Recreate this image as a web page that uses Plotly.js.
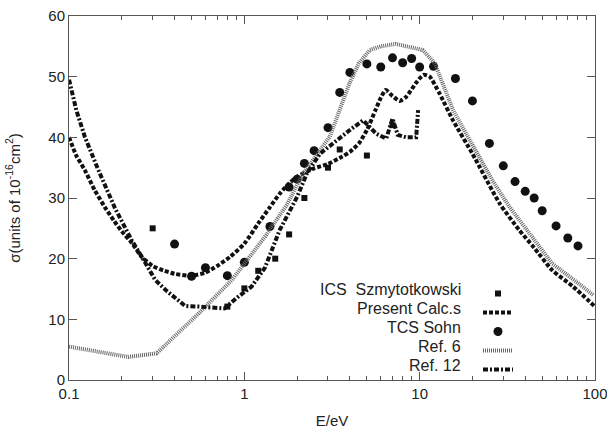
<!DOCTYPE html>
<html>
<head>
<meta charset="utf-8">
<script src="https://cdn.plot.ly/plotly-3.0.1.min.js"></script>
<style>html,body{margin:0;padding:0;background:#fff}#chart{width:607px;height:432px}</style>
</head>
<body>
<div id="chart"></div>
<script>
// ICS Szmytotkowski (squares)
const icsE = [0.3, 0.8, 1.0, 1.2, 1.5, 1.8, 2.2, 3.0, 3.5, 5.0, 7.0];
const icsS = [25.0, 12.1, 15.1, 18.0, 20.0, 24.0, 30.0, 35.0, 38.0, 37.0, 42.0];

// Present calculations
const pcE = [0.1, 0.11, 0.123, 0.14, 0.16, 0.18, 0.2, 0.228, 0.26, 0.3, 0.35, 0.4, 0.5, 0.6, 0.7, 0.83, 1.0, 1.2, 1.4, 1.6, 1.8, 2.0, 2.5, 3.0, 3.6, 4.0, 4.5, 5.0, 5.6, 6.0, 6.4, 7.0, 7.7, 8.4, 9.5, 10.5, 11.4, 13, 15.5, 20, 28.6, 37, 45, 57, 75, 100];
const pcS = [40, 37, 34.6, 31.3, 28.5, 26.3, 24.5, 22.6, 20.3, 18.8, 18.0, 17.5, 17.2, 17.7, 18.8, 20.3, 22.5, 25.8, 28.5, 30.8, 32.4, 33.5, 34.9, 35.6, 36.8, 37.6, 39.0, 41.2, 44.5, 46.5, 47.8, 46.8, 46.0, 46.7, 48.9, 50.3, 50.0, 47.2, 42.8, 37.3, 29.1, 24.7, 21.8, 18.1, 15.4, 12.1];

// TCS Sohn (circles)
const tcsE = [0.4, 0.5, 0.6, 0.8, 1.0, 1.4, 1.8, 2.0, 2.2, 2.5, 3.0, 3.5, 4.0, 5.0, 6.0, 7.0, 8.0, 9.0, 10, 12, 16, 20, 25, 30, 35, 40, 45, 50, 60, 70, 80];
const tcsS = [22.4, 17.1, 18.5, 17.2, 19.4, 25.3, 31.8, 33.1, 35.7, 37.8, 41.6, 47.4, 50.7, 52.1, 51.6, 53.1, 52.3, 53.0, 51.6, 51.7, 49.7, 46.0, 39.0, 35.3, 32.7, 31.1, 30.0, 27.9, 25.4, 23.4, 22.1];

// Ref. 6
const r6E = [0.1, 0.218, 0.316, 0.55, 0.85, 1.31, 1.74, 2.16, 3.07, 3.98, 4.5, 5.2, 6.0, 7.3, 10.4, 12.2, 15.5, 20.2, 26, 32.6, 42, 57, 72, 98];
const r6S = [5.5, 3.8, 4.4, 11.0, 16.5, 23.6, 28.8, 34.0, 40.1, 48.9, 52.2, 54.4, 55.0, 55.4, 54.4, 52.2, 44.5, 38.4, 32.9, 28.5, 24.2, 19.2, 17.0, 14.0];

// Ref. 12
const r12E = [0.1, 0.11, 0.123, 0.147, 0.183, 0.228, 0.26, 0.31, 0.36, 0.42, 0.46, 0.55, 0.65, 0.77, 0.92, 1.1, 1.31, 1.59, 2.0, 2.27, 2.7, 3.35, 4.0, 4.76, 5.65, 6.45, 7.0, 7.5, 8.4, 9.55, 9.8];
const r12S = [49.5, 44.5, 40.1, 34.6, 28.3, 23.0, 20.3, 16.5, 14.7, 13.2, 12.2, 12.1, 12.0, 11.8, 13.7, 15.4, 18.5, 24.7, 30.2, 34.0, 37.3, 39.5, 41.2, 42.8, 40.6, 39.8, 43.1, 40.4, 40.0, 40.0, 44.5];

const legendNames = ['ICS  Szmytotkowski', 'Present Calc.s', 'TCS Sohn', 'Ref. 6', 'Ref. 12'];
const xTickVals = [0.1, 1, 10, 100];
const xTickText = ['0.1', '1', '10', '100'];
const minorMultipliers = [2, 3, 4, 5, 6, 7, 8, 9];
const minorDecades = [0.1, 1, 10];

const minorVals = [];
minorDecades.forEach(d => minorMultipliers.forEach(m => minorVals.push(m * d)));

const FONT = 'Liberation Sans, Arial, Helvetica, sans-serif';

const traces = [
  {x: icsE, y: icsS, mode: 'markers', type: 'scatter', name: ' ',
   marker: {symbol: 'square', size: 6, color: '#111'}},
  {x: pcE, y: pcS, mode: 'lines', type: 'scatter', name: ' ',
   line: {color: '#111', width: 4, dash: '4px,2px', shape: 'spline', smoothing: 0.6}},
  {x: tcsE, y: tcsS, mode: 'markers', type: 'scatter', name: ' ',
   marker: {symbol: 'circle', size: 9, color: '#111'}},
  {x: r6E, y: r6S, mode: 'lines', type: 'scatter', name: ' ',
   line: {color: '#666', width: 4, dash: '1px,1px'}},
  {x: r12E, y: r12S, mode: 'lines', type: 'scatter', name: ' ',
   line: {color: '#111', width: 4, dash: '5px,2px,2px,2px'}}
];

const legTop = 279;
const step = 19;
const annotations = legendNames.map((t, i) => ({
  text: t, xref: 'paper', yref: 'paper', x: (463 - 69) / 526, xanchor: 'right',
  y: (380 - (legTop + 10 + i * step)) / 364, yanchor: 'middle', showarrow: false,
  font: {family: FONT, size: 16, color: '#222'}
}));

const layout = {
  width: 607, height: 432,
  margin: {l: 69, r: 12, t: 16, b: 52},
  paper_bgcolor: '#fff', plot_bgcolor: '#fff',
  font: {family: FONT, size: 15, color: '#222'},
  showlegend: true,
  legend: {x: (478 - 69) / 526, xanchor: 'left', y: (380 - legTop) / 364, yanchor: 'top',
           bgcolor: 'rgba(0,0,0,0)', font: {size: 10}, itemclick: false},
  xaxis: {
    type: 'log', range: [-1.0002, 2.0002], tickmode: 'array', tickvals: xTickVals, ticktext: xTickText,
    ticklabeloverflow: 'allow',
    ticks: 'inside', ticklen: 8, tickcolor: '#555', showline: true, linecolor: '#555', linewidth: 1,
    mirror: 'ticks', showgrid: false, zeroline: false,
    minor: {tickmode: 'array', tickvals: minorVals, ticks: 'inside', ticklen: 4, tickcolor: '#555', showgrid: false},
    tickfont: {family: FONT, size: 15, color: '#222'},
    title: {text: 'E/eV', font: {family: FONT, size: 15, color: '#222'}, standoff: 14}
  },
  yaxis: {
    range: [0, 60], dtick: 10, ticks: 'inside', ticklen: 8, tickcolor: '#555',
    showline: true, linecolor: '#555', linewidth: 1, mirror: 'ticks', showgrid: false, zeroline: false,
    tickfont: {family: FONT, size: 15, color: '#222'},
    title: {text: 'σ(units of 10<sup>-16</sup>cm<sup>2</sup>)', font: {family: FONT, size: 15, color: '#222'}, standoff: 24}
  },
  annotations: annotations
};

Plotly.newPlot('chart', traces, layout, {displayModeBar: false, staticPlot: true});
</script>
</body>
</html>
